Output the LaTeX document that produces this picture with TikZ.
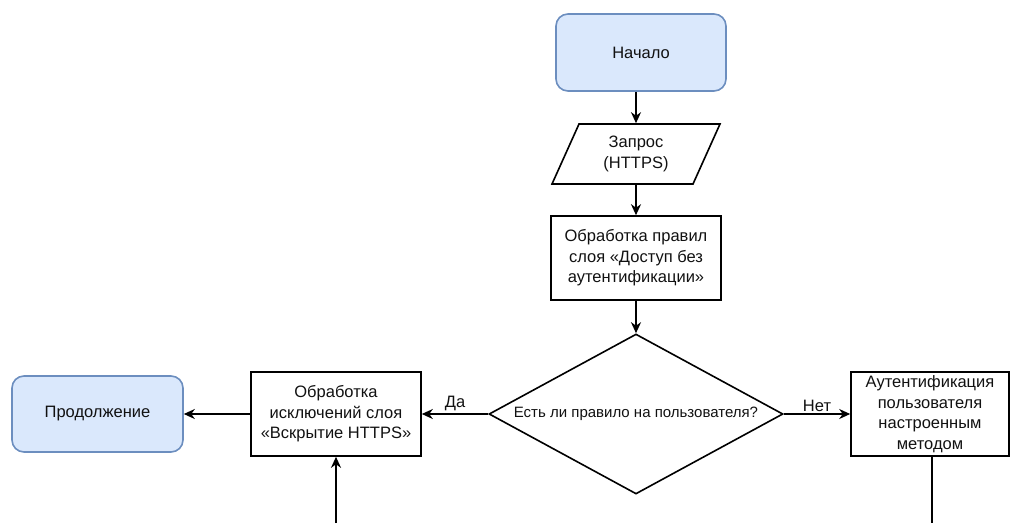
\documentclass[tikz,border=0pt]{standalone}
\usepackage{fontspec}
\setmainfont{Liberation Sans}
\usetikzlibrary{arrows.meta,shapes.geometric}
\definecolor{termfill}{HTML}{DAE8FC}
\definecolor{termline}{HTML}{6C8EBF}
\definecolor{ink}{HTML}{111111}
\begin{document}
\begin{tikzpicture}[x=1pt,y=-1pt,
  font=\fontsize{16.5}{20.5}\selectfont, line width=1.6pt, text=ink,
  term/.style={draw=termline, fill=termfill, rounded corners=12pt,
    minimum width=170pt, minimum height=77pt, align=center, inner sep=2pt},
  proc/.style={draw, minimum width=170pt, minimum height=84pt,
    align=center, inner sep=2pt},
  decision/.style={draw, shape=diamond, aspect=1.8375, minimum width=294pt,
    minimum height=160pt, inner sep=0pt, align=center,
    font=\fontsize{15}{18}\selectfont},
  flow/.style={-{Stealth[length=11pt,width=10pt,inset=3.5pt]}},
  lbl/.style={inner sep=2pt}]
  \useasboundingbox (0,0) rectangle (1011,523);

  % nodes
  \node[term] (start) at (641,52.5) {Начало};
  \node[minimum width=141pt, minimum height=60pt, align=center, inner sep=0pt]
    (req) at (636,154) {Запрос\\(HTTPS)};
  \draw (req.center) ++(-57,-30) -- ++(141,0) -- ++(-27,60) -- ++(-141,0) -- cycle;
  \node[proc] (rules) at (636,258)
    {Обработка правил\\слоя «Доступ без\\аутентификации»};
  \node[decision] (dec) at (636,414) {Есть ли правило на пользователя?};
  \node[proc] (exc) at (336,414)
    {Обработка\\исключений слоя\\«Вскрытие HTTPS»};
  \node[term, minimum width=171pt, minimum height=76pt] (cont) at (97.5,414)
    {Продолжение};
  \node[proc, minimum width=158pt] (auth) at (930,414)
    {Аутентификация\\пользователя\\настроенным\\методом};

  % loose ends at the lower border
  \coordinate (excin) at (336,523);
  \coordinate (authout) at (932,523);

  % connectors
  \draw[flow] (req |- start.south) -- (req.north);
  \draw[flow] (req.south) -- (rules.north);
  \draw[flow] (rules.south) -- (dec.north);
  \draw[flow] (dec.west) -- node[lbl, above] {Да} (exc.east);
  \draw[flow] (dec.east) -- node[lbl, above] {Нет} (auth.west);
  \draw[flow] (exc.west) -- (cont.east);
  \draw[flow] (excin) -- (exc.south);
  \draw (auth.south -| authout) -- (authout);
\end{tikzpicture}
\end{document}
